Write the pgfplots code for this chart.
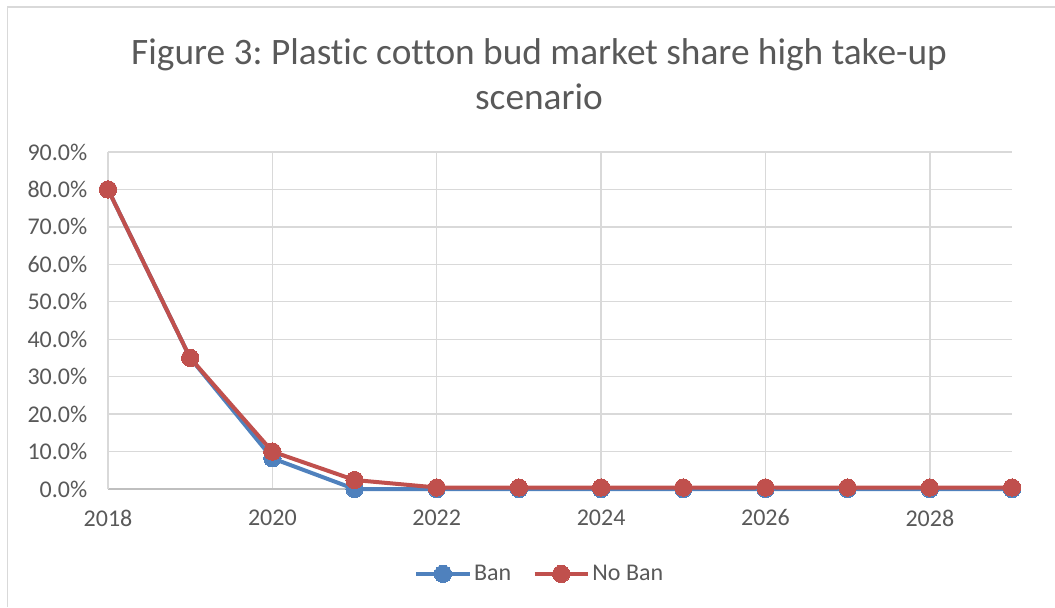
\documentclass[border=0pt]{standalone}
\usepackage{fontspec}
\setmainfont{Carlito}[Ligatures={NoCommon}]
\usepackage{pgfplots}
\pgfplotsset{compat=1.18}
\definecolor{txt}{HTML}{595959}
\definecolor{gridc}{HTML}{D9D9D9}
\definecolor{axc}{HTML}{BFBFBF}
\definecolor{ban}{HTML}{4F81BD}
\definecolor{noban}{HTML}{C0504D}
\frenchspacing
\begin{document}
\begin{tikzpicture}[x=0.75pt,y=0.75pt]
\path[use as bounding box] (0,0) rectangle (1055,607);
\draw[gridc, line width=1.2pt] (7.5,0) -- (7.5,600) -- (1055,600);
\node[text=txt, font=\fontsize{28}{32}\selectfont, anchor=center] at (539,552) {Figure 3: Plastic cotton bud market share high take-up};
\node[text=txt, font=\fontsize{28}{32}\selectfont, anchor=center] at (539,510) {scenario};
\begin{axis}[
  at={(81pt,88.5pt)}, anchor=south west,
  scale only axis, width=678pt, height=252.75pt,
  xmin=2018, xmax=2029, ymin=0, ymax=90,
  xtick={2018,2020,...,2028},
  ytick={0,10,...,90},
  axis x line*=bottom, axis y line*=left,
  axis line style={axc, line width=1pt, -},
  x axis line style={axc},
  y axis line style={gridc},
  major tick length=0pt,
  grid=major,
  major grid style={gridc, line width=1pt},
  tick label style={text=txt, font=\fontsize{18}{21}\selectfont},
  /pgf/number format/assume math mode=true,
  xticklabel style={/pgf/number format/1000 sep={}, yshift=-12pt},
  yticklabel={\pgfmathprintnumber[fixed,fixed zerofill,precision=1,assume math mode=true]{\tick}\%},
  yticklabel style={xshift=-12pt},
  clip=false,
  legend columns=2,
  legend style={draw=none, fill=none, at={(0.478,-0.252)}, anchor=center,
    font=\fontsize{18}{21}\selectfont, text=txt,
    /tikz/every even column/.append style={column sep=14pt}},
  legend image code/.code={
    \draw[#1, mark=none] (0cm,0cm) -- (1.4cm,0cm);
    \draw[#1, only marks] plot coordinates {(0.7cm,0cm)};
  },
]
\addplot[ban, line width=3pt, mark=*, mark size=6.5pt, mark options={solid, fill=ban, draw=ban, line width=0pt}]
coordinates {(2018,80) (2019,35) (2020,8.2) (2021,0) (2022,0) (2023,0) (2024,0) (2025,0) (2026,0) (2027,0) (2028,0) (2029,0)};
\addlegendentry{Ban}
\addplot[noban, line width=3pt, mark=*, mark size=6.5pt, mark options={solid, fill=noban, draw=noban, line width=0pt}]
coordinates {(2018,80) (2019,35) (2020,10) (2021,2.4) (2022,0.4) (2023,0.4) (2024,0.4) (2025,0.4) (2026,0.4) (2027,0.4) (2028,0.4) (2029,0.4)};
\addlegendentry{No Ban}
\end{axis}
\end{tikzpicture}
\end{document}
